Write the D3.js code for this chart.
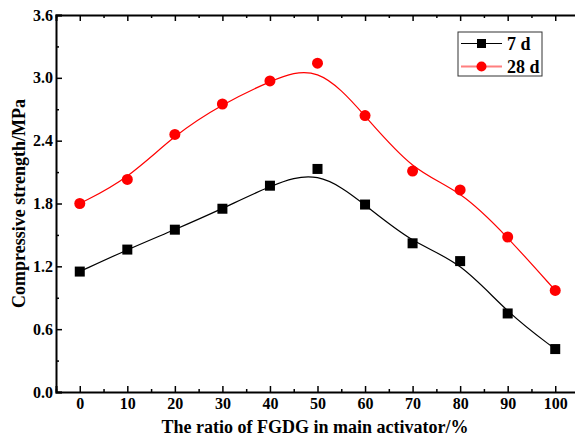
<!DOCTYPE html>
<html>
<head>
    <style>
        body { margin: 0; background: #fff; }
        svg { font-family: 'Liberation Serif', 'Times New Roman', serif; font-weight: bold; }
    </style>
</head>
<body>
    <div id="chart"></div>
    <script src="https://cdn.jsdelivr.net/npm/d3@7/dist/d3.min.js"></script>
    <script>
        // data
        const ratios = [0, 10, 20, 30, 40, 50, 60, 70, 80, 90, 100];
        const strength7d = [1.15, 1.36, 1.55, 1.75, 1.97, 2.13, 1.79, 1.42, 1.25, 0.75, 0.41];
        const strength28d = [1.80, 2.03, 2.46, 2.75, 2.97, 3.14, 2.64, 2.11, 1.93, 1.48, 0.97];
        const seriesNames = ["7 d", "28 d"];
        const xTicks = [0, 10, 20, 30, 40, 50, 60, 70, 80, 90, 100];
        const yTicks = [0.0, 0.6, 1.2, 1.8, 2.4, 3.0, 3.6];

        const [width, height] = [575, 437];
        const plot = {left: 56, right: 579, top: 15, bottom: 392};

        const svg = d3.select("#chart")
                      .append("svg")
                      .attr("width", width)
                      .attr("height", height);

        const x = d3.scaleLinear().domain([-5, 105]).range([plot.left, plot.right]);
        const y = d3.scaleLinear().domain([0, 3.6]).range([plot.bottom, plot.top]);

        // minor ticks
        const xMinor = d3.range(-5, 106, 5).filter(v => v % 10 !== 0);
        const yMinor = d3.range(0.3, 3.6, 0.6);

        svg.append("g")
            .attr("transform", `translate(0, ${plot.bottom})`)
            .call(d3.axisBottom(x).tickValues(xTicks).tickSize(-6).tickPadding(6).tickFormat(d3.format("d")));
        svg.append("g")
            .attr("transform", `translate(0, ${plot.bottom})`)
            .call(d3.axisBottom(x).tickValues(xMinor).tickSize(-3).tickFormat(""))
            .select(".domain").remove();

        svg.append("g")
            .attr("transform", `translate(0, ${plot.top})`)
            .call(d3.axisTop(x).tickValues(xTicks).tickSize(-6).tickFormat(""));
        svg.append("g")
            .attr("transform", `translate(0, ${plot.top})`)
            .call(d3.axisTop(x).tickValues(xMinor).tickSize(-3).tickFormat(""))
            .select(".domain").remove();

        svg.append("g")
            .attr("transform", `translate(${plot.left}, 0)`)
            .call(d3.axisLeft(y).tickValues(yTicks).tickSize(-6).tickPadding(3).tickFormat(d3.format(".1f")));
        svg.append("g")
            .attr("transform", `translate(${plot.left}, 0)`)
            .call(d3.axisLeft(y).tickValues(yMinor).tickSize(-3).tickFormat(""))
            .select(".domain").remove();

        svg.selectAll(".domain").attr("stroke", "#000").attr("stroke-width", 2);
        svg.selectAll(".tick line").attr("stroke", "#000").attr("stroke-width", 1.5);
        svg.selectAll(".tick text")
            .attr("fill", "#000")
            .style("font-family", "'Liberation Serif', serif")
            .style("font-weight", "bold")
            .style("font-size", "16px");

        // axis titles
        svg.append("text")
            .attr("x", 315)
            .attr("y", 433)
            .attr("text-anchor", "middle")
            .style("font-size", "18px")
            .text("The ratio of FGDG in main activator/%");

        svg.append("text")
            .attr("transform", `translate(25, ${(plot.top + plot.bottom) / 2}) rotate(-90)`)
            .attr("text-anchor", "middle")
            .style("font-size", "18px")
            .text("Compressive strength/MPa");

        const line = d3.line()
            .x(d => x(d[0]))
            .y(d => y(d[1]))
            .curve(d3.curveBasis);

        const data7 = ratios.map((r, i) => [r, strength7d[i]]);
        const data28 = ratios.map((r, i) => [r, strength28d[i]]);

        svg.append("path").datum(data7)
            .attr("fill", "none").attr("stroke", "#000").attr("stroke-width", 1.2)
            .attr("d", line);
        svg.append("path").datum(data28)
            .attr("fill", "none").attr("stroke", "#ff0000").attr("stroke-width", 1.2)
            .attr("d", line);

        svg.selectAll(".sq").data(data7).enter().append("rect")
            .attr("class", "sq")
            .attr("x", d => x(d[0]) - 5)
            .attr("y", d => y(d[1]) - 5)
            .attr("width", 10).attr("height", 10)
            .attr("fill", "#000");

        svg.selectAll(".dot").data(data28).enter().append("circle")
            .attr("class", "dot")
            .attr("cx", d => x(d[0]))
            .attr("cy", d => y(d[1]))
            .attr("r", 5.5)
            .attr("fill", "#ff0000");

        // legend
        const legend = svg.append("g").attr("transform", "translate(458, 32)");
        legend.append("rect")
            .attr("width", 84).attr("height", 44)
            .attr("fill", "#fff").attr("stroke", "#333").attr("stroke-width", 1);
        legend.append("line")
            .attr("x1", 3).attr("x2", 44).attr("y1", 11.5).attr("y2", 11.5)
            .attr("stroke", "#000").attr("stroke-width", 1.2);
        legend.append("rect")
            .attr("x", 19).attr("y", 7).attr("width", 9).attr("height", 9).attr("fill", "#000");
        legend.append("text").attr("x", 49).attr("y", 18).style("font-size", "18px").text(seriesNames[0]);
        legend.append("line")
            .attr("x1", 3).attr("x2", 44).attr("y1", 34.5).attr("y2", 34.5)
            .attr("stroke", "#ff7f7f").attr("stroke-width", 2);
        legend.append("circle")
            .attr("cx", 23.5).attr("cy", 34.5).attr("r", 5).attr("fill", "#ff0000");
        legend.append("text").attr("x", 49).attr("y", 41).style("font-size", "18px").text(seriesNames[1]);
    </script>
</body>
</html>
